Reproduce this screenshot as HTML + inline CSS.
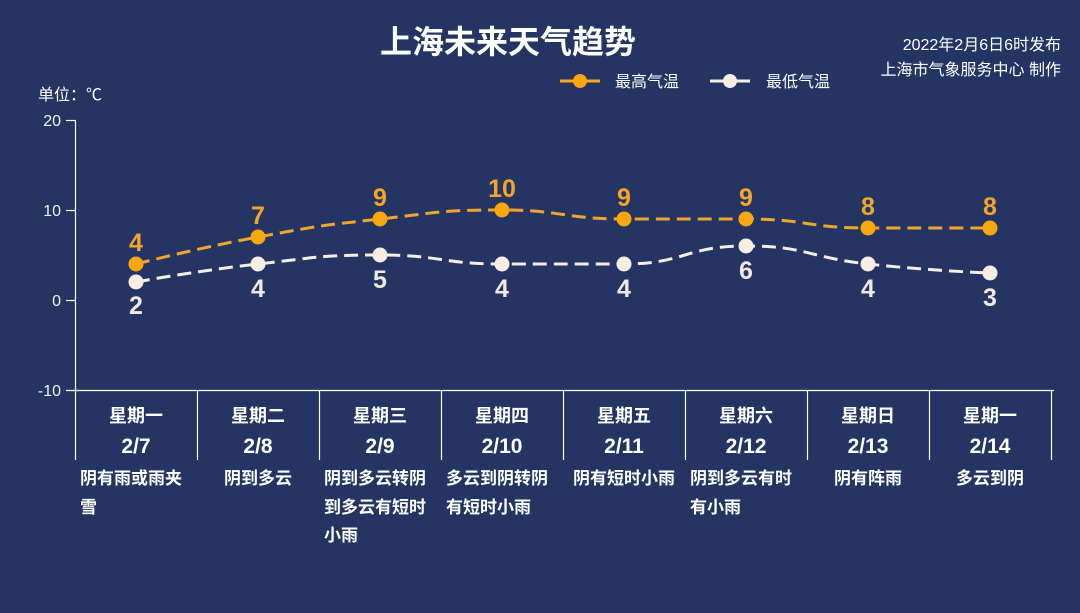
<!DOCTYPE html>
<html>
<head>
<meta charset="utf-8">
<style>
  html, body { margin:0; padding:0; background:#243463; }
  svg { display:block; }
  text { font-family: "Liberation Sans", "Noto Sans CJK SC", sans-serif; }
</style>
</head>
<body>
<svg width="1080" height="613" viewBox="0 0 1080 613" xmlns="http://www.w3.org/2000/svg">
  <rect x="0" y="0" width="1080" height="613" fill="#243463"/>

  <!-- Title -->
  <text x="508" y="53" font-size="32" font-weight="bold" fill="#ffffff" text-anchor="middle">上海未来天气趋势</text>

  <!-- Top-right info -->
  <text x="1061" y="50" font-size="16" fill="#ffffff" text-anchor="end">2022年2月6日6时发布</text>
  <text x="1061" y="75" font-size="16" fill="#ffffff" text-anchor="end">上海市气象服务中心 制作</text>

  <!-- Legend -->
  <line x1="560" y1="81" x2="600" y2="81" stroke="#f5a623" stroke-width="3"/>
  <circle cx="580" cy="81" r="7" fill="#f8a70f"/>
  <text x="615" y="87" font-size="16" fill="#ffffff">最高气温</text>
  <line x1="710" y1="81" x2="750" y2="81" stroke="#f7ede3" stroke-width="3"/>
  <circle cx="730" cy="81" r="7" fill="#f7ede3"/>
  <text x="766" y="87" font-size="16" fill="#ffffff">最低气温</text>

  <!-- Unit -->
  <text x="38" y="100" font-size="16" fill="#ffffff">单位：℃</text>

  <!-- Y axis -->
  <line x1="75.5" y1="120" x2="75.5" y2="460" stroke="#ffffff" stroke-width="1.2"/>
  <g stroke="#ffffff" stroke-width="1.2">
    <line x1="66" y1="120.5" x2="75.5" y2="120.5"/>
    <line x1="66" y1="210.5" x2="75.5" y2="210.5"/>
    <line x1="66" y1="300.5" x2="75.5" y2="300.5"/>
    <line x1="66" y1="390.5" x2="1054" y2="390.5"/>
  </g>
  <g font-size="16" fill="#f0f0f0" text-anchor="end">
    <text x="61" y="126">20</text>
    <text x="61" y="216">10</text>
    <text x="61" y="306">0</text>
    <text x="61" y="396">-10</text>
  </g>

  <!-- Category separators -->
  <g stroke="#ffffff" stroke-width="1.2">
    <line x1="197.5" y1="390" x2="197.5" y2="460"/>
    <line x1="319.5" y1="390" x2="319.5" y2="460"/>
    <line x1="441.5" y1="390" x2="441.5" y2="460"/>
    <line x1="563.5" y1="390" x2="563.5" y2="460"/>
    <line x1="685.5" y1="390" x2="685.5" y2="460"/>
    <line x1="807.5" y1="390" x2="807.5" y2="460"/>
    <line x1="929.5" y1="390" x2="929.5" y2="460"/>
    <line x1="1051.5" y1="390" x2="1051.5" y2="460"/>
  </g>

  <!-- Category labels -->
  <g font-size="18" font-weight="bold" fill="#ffffff" text-anchor="middle">
    <text x="136" y="422">星期一</text>
    <text x="258" y="422">星期二</text>
    <text x="380" y="422">星期三</text>
    <text x="502" y="422">星期四</text>
    <text x="624" y="422">星期五</text>
    <text x="746" y="422">星期六</text>
    <text x="868" y="422">星期日</text>
    <text x="990" y="422">星期一</text>
  </g>
  <g font-size="21" font-weight="bold" fill="#ffffff" text-anchor="middle">
    <text x="136" y="453">2/7</text>
    <text x="258" y="453">2/8</text>
    <text x="380" y="453">2/9</text>
    <text x="502" y="453">2/10</text>
    <text x="624" y="453">2/11</text>
    <text x="746" y="453">2/12</text>
    <text x="868" y="453">2/13</text>
    <text x="990" y="453">2/14</text>
  </g>

  <!-- Weather descriptions -->
  <g font-size="17" font-weight="bold" fill="#ffffff">
    <text x="80" y="484">阴有雨或雨夹</text>
    <text x="80" y="513">雪</text>
    <text x="258" y="484" text-anchor="middle">阴到多云</text>
    <text x="324" y="484">阴到多云转阴</text>
    <text x="324" y="513">到多云有短时</text>
    <text x="324" y="541">小雨</text>
    <text x="446" y="484">多云到阴转阴</text>
    <text x="446" y="513">有短时小雨</text>
    <text x="624" y="484" text-anchor="middle">阴有短时小雨</text>
    <text x="690" y="484">阴到多云有时</text>
    <text x="690" y="513">有小雨</text>
    <text x="868" y="484" text-anchor="middle">阴有阵雨</text>
    <text x="990" y="484" text-anchor="middle">多云到阴</text>
  </g>

  <!-- High temperature line -->
  <path d="M136,264 C136,264 197,248.25 258,237 C319,225.75 319,225.75 380,219 C441,212.25 441,210 502,210 C563,210 563,219 624,219 C685,219 685,219 746,219 C807,219 807,228 868,228 C929,228 990,228 990,228"
        fill="none" stroke="#f0a62c" stroke-width="3" stroke-dasharray="14 7"/>
  <!-- Low temperature line -->
  <path d="M136,282 C136,282 197,270.75 258,264 C319,257.25 319,255 380,255 C441,255 441,264 502,264 C563,264 563,264 624,264 C685,264 685,246 746,246 C807,246 807,257.25 868,264 C929,270.75 990,273 990,273"
        fill="none" stroke="#f7ede3" stroke-width="3" stroke-dasharray="14 7"/>

  <!-- High markers -->
  <g fill="#f8a70f">
    <circle cx="136" cy="264" r="7.5"/>
    <circle cx="258" cy="237" r="7.5"/>
    <circle cx="380" cy="219" r="7.5"/>
    <circle cx="502" cy="210" r="7.5"/>
    <circle cx="624" cy="219" r="7.5"/>
    <circle cx="746" cy="219" r="7.5"/>
    <circle cx="868" cy="228" r="7.5"/>
    <circle cx="990" cy="228" r="7.5"/>
  </g>
  <!-- Low markers -->
  <g fill="#f7ede3">
    <circle cx="136" cy="282" r="7.5"/>
    <circle cx="258" cy="264" r="7.5"/>
    <circle cx="380" cy="255" r="7.5"/>
    <circle cx="502" cy="264" r="7.5"/>
    <circle cx="624" cy="264" r="7.5"/>
    <circle cx="746" cy="246" r="7.5"/>
    <circle cx="868" cy="264" r="7.5"/>
    <circle cx="990" cy="273" r="7.5"/>
  </g>

  <!-- High labels -->
  <g font-size="25" font-weight="bold" fill="#f2a52b" text-anchor="middle">
    <text x="136" y="251">4</text>
    <text x="258" y="224">7</text>
    <text x="380" y="206">9</text>
    <text x="502" y="197">10</text>
    <text x="624" y="206">9</text>
    <text x="746" y="206">9</text>
    <text x="868" y="215">8</text>
    <text x="990" y="215">8</text>
  </g>
  <!-- Low labels -->
  <g font-size="25" font-weight="bold" fill="#f1e9e1" text-anchor="middle">
    <text x="136" y="314">2</text>
    <text x="258" y="297">4</text>
    <text x="380" y="288">5</text>
    <text x="502" y="297">4</text>
    <text x="624" y="297">4</text>
    <text x="746" y="279">6</text>
    <text x="868" y="297">4</text>
    <text x="990" y="306">3</text>
  </g>
</svg>
</body>
</html>
